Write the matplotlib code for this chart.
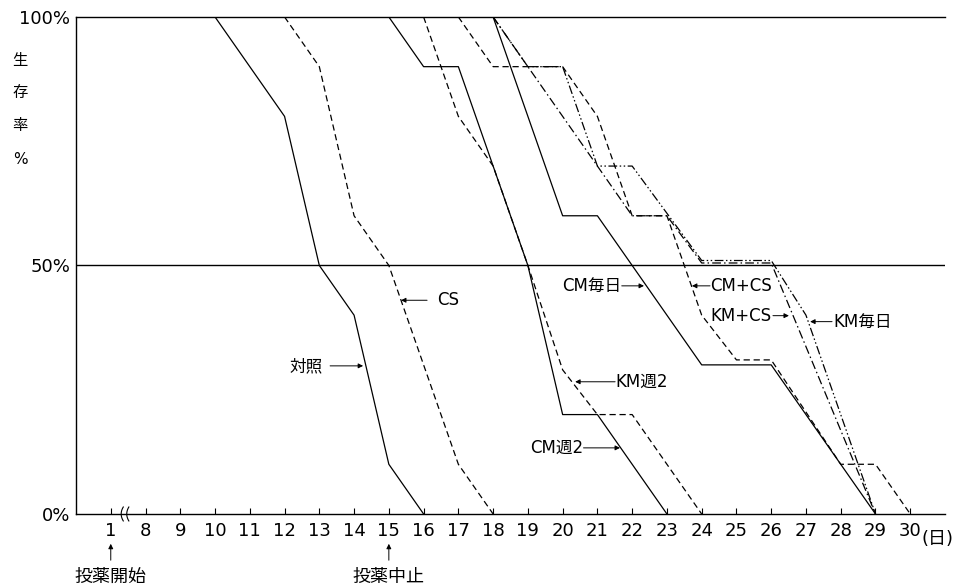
import numpy as np
import matplotlib
matplotlib.use('Agg')
import matplotlib.pyplot as plt

plt.rcParams['font.family'] = ['DejaVu Sans', 'Noto Sans CJK JP']

# survival data (day, percent); day 1 sits one step left of day 8 on the axis
control_days = [10, 12, 13, 14, 15, 16]
control = [100, 80, 50, 40, 10, 0]
cs_days = [12, 13, 14, 15, 17, 18]
cs = [100, 90, 60, 50, 10, 0]
cm_w2_days = [15, 16, 17, 19, 20, 21, 23]
cm_w2 = [100, 90, 90, 50, 20, 20, 0]
km_w2_days = [16, 17, 18, 19, 20, 21, 22, 24]
km_w2 = [100, 80, 70, 50, 29, 20, 20, 0]
cm_d_days = [18, 20, 21, 22, 24, 26, 29]
cm_d = [100, 60, 60, 50, 30, 30, 0]
cm_cs_days = [17, 18, 20, 21, 22, 23, 24, 25, 26, 28, 29, 30]
cm_cs = [100, 90, 90, 80, 60, 60, 40, 31, 31, 10, 10, 0]
km_cs_days = [18, 22, 23, 24, 26, 29]
km_cs = [100, 60, 60, 50.5, 50.5, 0]
km_d_days = [18, 19, 20, 21, 22, 24, 26, 27, 29]
km_d = [100, 90, 90, 70, 70, 51, 51, 40, 0]

tick_days = [1] + list(range(8, 31))
tick_labels = [str(d) for d in tick_days]


def pos(d):
    return 7 if d == 1 else d


fig = plt.figure(figsize=(9.56, 5.87), dpi=100)
ax = fig.add_axes([0.0795, 0.1244, 0.909, 0.8467])
ax.set_xlim(6, 31)
ax.set_ylim(0, 100)

lw = 0.9
dash = (0, (5, 3))
dashdot = (0, (7, 2.5, 1.2, 2.5))
dashdotdot = (0, (7, 2, 1.2, 2, 1.2, 2))

ax.plot(control_days, control, color='k', lw=lw, ls='-')
ax.plot(cs_days, cs, color='k', lw=lw, ls=dash)
ax.plot(cm_w2_days, cm_w2, color='k', lw=lw, ls='-')
ax.plot(km_w2_days, km_w2, color='k', lw=lw, ls=dash)
ax.plot(cm_d_days, cm_d, color='k', lw=lw, ls='-')
ax.plot(cm_cs_days, cm_cs, color='k', lw=lw, ls=dash)
ax.plot(km_cs_days, km_cs, color='k', lw=lw, ls=dashdot)
ax.plot(km_d_days, km_d, color='k', lw=lw, ls=dashdotdot)

ax.axhline(50, color='k', lw=1.0)

for s in ['right']:
    ax.spines[s].set_visible(False)
for s in ['left', 'top', 'bottom']:
    ax.spines[s].set_linewidth(1.0)

ax.set_xticks([pos(d) for d in tick_days])
labels = tick_labels[:]
ax.set_xticklabels(labels, fontsize=13)
ax.tick_params(axis='x', direction='in', length=4, width=0.8, pad=6)
ax.text(30.33, -0.032, '(日)', transform=ax.get_xaxis_transform(),
        fontsize=13, ha='left', va='top')

ax.set_yticks([0, 50, 100])
ax.set_yticklabels(['0%', '50%', '100%'], fontsize=13)
ax.tick_params(axis='y', length=0, pad=4)

# vertical y label
for ch, yp in zip(['生', '存', '率', '%'], [60, 93, 126, 159]):
    fig.text(20 / 956, 1 - yp / 587, ch, fontsize=11, ha='center', va='center')

# axis break mark between 1 and 8
t = np.linspace(-1, 1, 20)
for xc in [7.36, 7.52]:
    ax.plot(xc - 0.06 * (1 - t ** 2), t * 1.4, color='k', lw=0.8, clip_on=False)

arrow = dict(arrowstyle='-|>', lw=0.7, color='k', mutation_scale=7,
             shrinkA=0, shrinkB=0)


def label(text, tx, ty, ha, tail, tip):
    ax.text(tx, ty, text, fontsize=12, ha=ha, va='center')
    ax.annotate('', xy=(tip, ty), xytext=(tail, ty), arrowprops=arrow)


label('対照', 13.1, 29.8, 'right', 13.31, 14.26)
label('CS', 16.39, 43.0, 'left', 16.1, 15.35)
label('CM毎日', 21.7, 45.9, 'right', 21.7, 22.34)
label('CM+CS', 24.24, 45.9, 'left', 24.24, 23.72)
label('KM+CS', 24.24, 39.9, 'left', 26.05, 26.51)
label('KM毎日', 27.8, 38.7, 'left', 27.75, 27.12)
label('KM週2', 21.51, 26.6, 'left', 21.51, 20.36)
label('CM週2', 20.6, 13.3, 'right', 20.6, 21.65)

xt = ax.get_xaxis_transform()
for d, text in [(1, '投薬開始'), (15, '投薬中止')]:
    ax.annotate('', xy=(pos(d), -0.06), xycoords=xt,
                xytext=(pos(d), -0.093), textcoords=xt, arrowprops=arrow)
    ax.text(pos(d), -0.127, text, transform=xt, fontsize=13,
            ha='center', va='center')

fig.savefig('out.png', dpi=100)
